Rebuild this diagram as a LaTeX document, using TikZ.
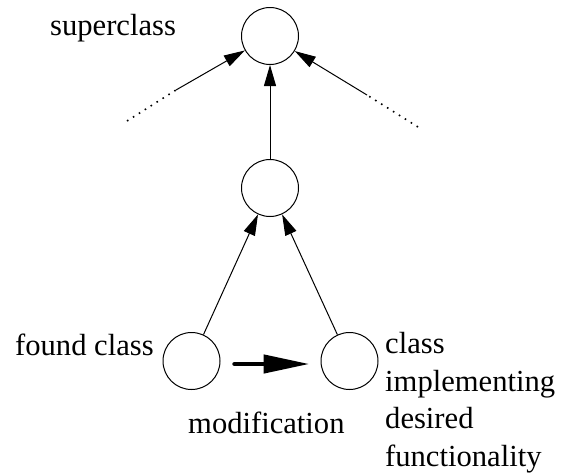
\documentclass[tikz,border=0pt]{standalone}
\usepackage{fontspec}
\setmainfont{Liberation Serif}
\newfontfamily\labelfont{Liberation Serif}
\usetikzlibrary{arrows.meta}

\begin{document}
\begin{tikzpicture}[
    x=1pt, y=-1pt,
    classnode/.style={draw, line width=1pt, circle, minimum size=57pt, inner sep=0pt},
    lbl/.style={inner sep=0pt, font=\labelfont\fontsize{30.6}{37.4}\selectfont, align=left},
    arrow/.style={-{Triangle[length=21pt, width=12pt]}, line width=1pt},
    bigarrow/.style={-{Triangle[length=46pt, width=18pt]}, line width=4.5pt, line cap=round},
    dots/.style={line width=1.6pt, dash pattern=on 1.6pt off 5.4pt}
]
    \useasboundingbox (0,0) rectangle (563,472);

    % Classes
    \node[classnode] (super) at (270,36) {};
    \node[classnode] (mid) at (270,188) {};
    \node[classnode] (found) at (191.5,361) {};
    \node[classnode] (impl) at (349.5,361) {};

    % Labels
    \node[lbl, anchor=base west] (superlbl) at (50,35) {superclass};
    \node[lbl, anchor=base west] (foundlbl) at (15,355) {found class};
    \node[lbl, anchor=base west] (modlbl) at (188,433) {modification};
    \node[lbl, anchor=base west] (impllbl) at (385,466) {class\\implementing\\desired\\functionality};

    % Other subclasses (dotted)
    \coordinate (lend) at (127,121);
    \coordinate (lmid) at (176,90);
    \coordinate (rend) at (418,127);
    \coordinate (rmid) at (367,95);
    \draw[dots] (lend) -- (lmid);
    \draw[dots] (rend) -- (rmid);
    \draw[arrow] (lmid) -- (super);
    \draw[arrow] (rmid) -- (super);

    % Inheritance
    \draw[arrow] (mid) -- (super);
    \draw[arrow] (found) -- (mid);
    \draw[arrow] (impl) -- (mid);

    % Modification
    \draw[bigarrow] ([yshift=-3pt,xshift=14pt]found.east) -- ([yshift=-3pt,xshift=-11pt]impl.west);
\end{tikzpicture}
\end{document}
